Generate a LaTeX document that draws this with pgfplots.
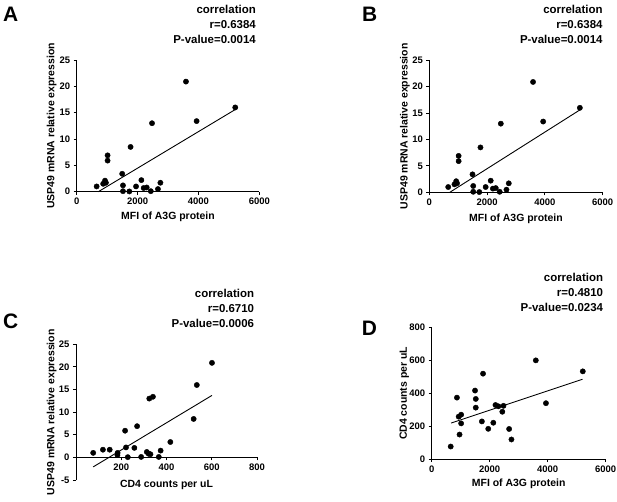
\documentclass[border=0pt]{standalone}
\usepackage{pgfplots}
\pgfplotsset{compat=1.18}
\usepackage{pgfplotstable}
\usepackage{fontspec}
\setmainfont{Liberation Sans}
\pgfplotstableread{
mfi usp cd4
655 1.0 76
870 1.5 374
930 2.1 258
960 1.7 149
1015 6.9 270
1015 5.9 217
1495 3.4 417
1520 1.2 313
1520 0.1 366
1730 0.05 229
1770 8.5 520
1950 1.0 184
2125 2.2 221
2200 0.7 329
2300 0.8 321
2435 0.1 288
2475 13.0 324
2670 0.5 183
2750 1.7 119
3590 20.9 601
3940 13.4 340
5210 16.0 534
}\data
\pgfplotsset{gp/.style={scale only axis, anchor=south west,
  axis x line*=bottom, axis y line*=left,
  axis line style={line width=1bp,-},
  tick align=outside, major tick length=3bp,
  every tick/.style={line width=1bp, black},
  /pgf/number format/assume math mode=true,
  /pgf/number format/1000 sep={},
  scaled ticks=false,
  ticklabel style={font=\bfseries\fontsize{9.5}{11}\selectfont},
  label style={font=\bfseries\fontsize{10.5}{12}\selectfont},
  clip=false},
  dots/.style={only marks, mark=*, mark size=2.65bp, black},
  fit/.style={black, line width=0.9bp, mark=none}}
\begin{document}
\begin{tikzpicture}
\path[use as bounding box] (0,0) rectangle (617bp,-502bp);
% Panel A
\begin{axis}[gp, at={(76.7bp,-191.7bp)}, width=182.6bp, height=131.7bp,
  xmin=0, xmax=6000, ymin=0, ymax=25, xtick={0,2000,4000,6000}, ytick={0,5,10,15,20,25},
  xlabel={MFI of A3G protein}, ylabel={USP49 mRNA relative expression},
  xlabel style={at={(axis description cs:0.5,-0.194)}, anchor=center},
  ylabel style={at={(axis description cs:-0.137,0.5)}, anchor=center}]
\addplot[dots] table[x=mfi, y=usp] {\data};
\addplot[fit] coordinates {(710,0) (5210,15.6)};
\end{axis}
% Panel B
\begin{axis}[gp, at={(429.3bp,-192.3bp)}, width=173.4bp, height=132bp,
  xmin=0, xmax=6000, ymin=0, ymax=25, xtick={0,2000,4000,6000}, ytick={0,5,10,15,20,25},
  xlabel={MFI of A3G protein}, ylabel={USP49 mRNA relative expression},
  xlabel style={at={(axis description cs:0.5,-0.2)}, anchor=center},
  ylabel style={at={(axis description cs:-0.140,0.5)}, anchor=center}]
\addplot[dots] table[x=mfi, y=usp] {\data};
\addplot[fit] coordinates {(710,0) (5210,15.6)};
\end{axis}
% Panel C
\begin{axis}[gp, axis x line*=middle, at={(76bp,-480bp)}, width=181bp, height=135.7bp,
  hide obscured x ticks=false, hide obscured y ticks=false,
  xmin=0, xmax=800, ymin=-5, ymax=25, xtick={200,400,600,800}, ytick={-5,0,5,10,15,20,25},
  xlabel={CD4 counts per uL}, ylabel={USP49 mRNA relative expression},
  xlabel style={at={(axis description cs:0.5,-0.035)}, anchor=center},
  ylabel style={at={(axis description cs:-0.134,0.5)}, anchor=center}]
\addplot[dots] table[x=cd4, y=usp] {\data};
\addplot[fit] coordinates {(76,-2.1) (601,13.7)};
\end{axis}
% Panel D
\begin{axis}[gp, at={(431.7bp,-459bp)}, width=174bp, height=131.3bp,
  xmin=0, xmax=6000, ymin=0, ymax=800, xtick={0,2000,4000,6000}, ytick={0,200,400,600,800},
  xlabel={MFI of A3G protein}, ylabel={CD4 counts per uL},
  xlabel style={at={(axis description cs:0.5,-0.185)}, anchor=center},
  ylabel style={at={(axis description cs:-0.157,0.5)}, anchor=center}]
\addplot[dots] table[x=mfi, y=cd4] {\data};
\addplot[fit] coordinates {(670,219) (5200,486)};
\end{axis}
% Panel letters
\begin{scope}[every node/.style={inner sep=0pt, font=\bfseries\fontsize{21}{24}\selectfont}]
\node[anchor=base west] at (3bp,-21.7bp) {A};
\node[anchor=base west] at (362bp,-21.7bp) {B};
\node[anchor=base west] at (3bp,-328.3bp) {C};
\node[anchor=base west] at (361.7bp,-335bp) {D};
\end{scope}
% correlation texts
\begin{scope}[every node/.style={inner sep=0pt, anchor=base east, font=\bfseries\fontsize{11.5}{13}\selectfont}]
\node at (256bp,-13.3bp) {correlation};
\node at (256bp,-28.3bp) {r=0.6384};
\node at (256bp,-43.3bp) {P-value=0.0014};
\node at (602.7bp,-13.3bp) {correlation};
\node at (602.7bp,-28.3bp) {r=0.6384};
\node at (602.7bp,-43.3bp) {P-value=0.0014};
\node at (254.3bp,-297.3bp) {correlation};
\node at (254.3bp,-312.3bp) {r=0.6710};
\node at (254.3bp,-327.3bp) {P-value=0.0006};
\node at (603.3bp,-281.7bp) {correlation};
\node at (603.3bp,-296.7bp) {r=0.4810};
\node at (603.3bp,-311.7bp) {P-value=0.0234};
\end{scope}
\end{tikzpicture}
\end{document}
